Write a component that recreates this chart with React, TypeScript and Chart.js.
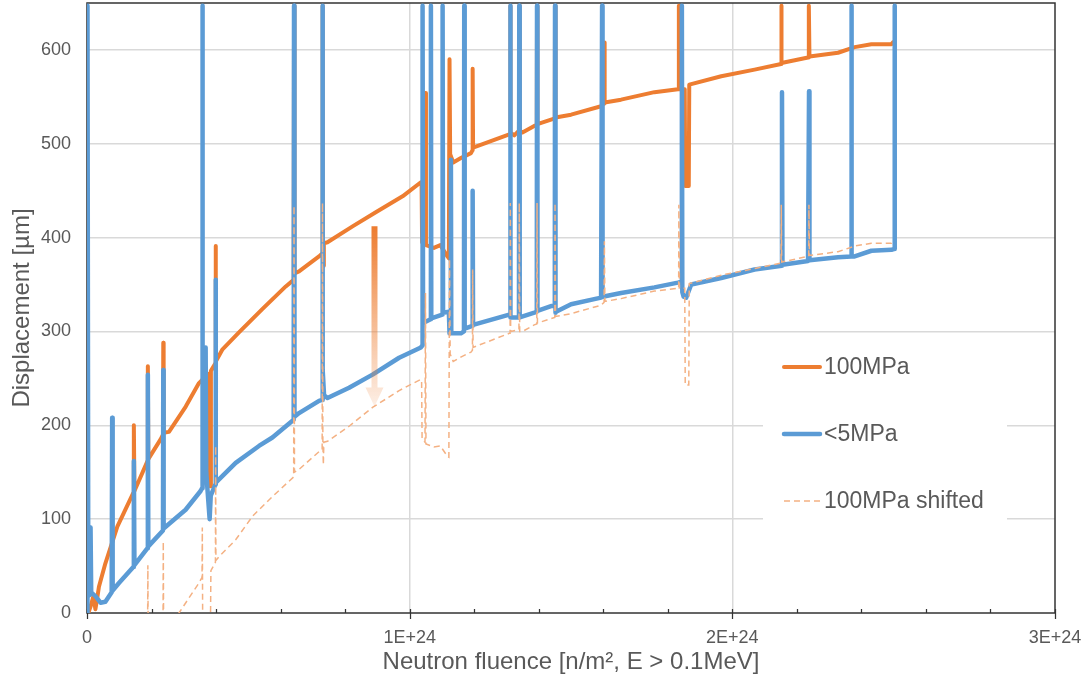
import { useEffect, useRef } from 'react';
import { Chart, registerables } from 'chart.js';

Chart.register(...registerables);

// Fluence values are given in units of 1E+24 n/m^2
const FLUENCE_UNIT = 1e24;
const X_TICKS = [0, 1, 2, 3];
const X_MINOR_STEP = 0.2;
const Y_TICKS = [0, 100, 200, 300, 400, 500, 600];
const Y_MAX = 650;

const X_TITLE = 'Neutron fluence [n/m², E > 0.1MeV]';
const Y_TITLE = 'Displacement [µm]';
const SERIES_LABELS = ['100MPa', '<5MPa', '100MPa shifted'];

// [fluence (1E+24), displacement µm]
const highStress: [number, number][] = [
  [0.004, 0], [0.012, 8], [0.02, 18], [0.026, 4], [0.03, 12], [0.037, 28], [0.057, 53], [0.094, 92],
  [0.1435, 128], [0.1452, 200], [0.147, 130], [0.18, 156], [0.1875, 162], [0.1886, 263], [0.19, 164],
  [0.228, 185], [0.2355, 190], [0.2364, 288], [0.2375, 192], [0.254, 193], [0.306, 220], [0.347, 245],
  [0.3677, 252], [0.379, 255], [0.3805, 135], [0.3825, 135], [0.384, 258], [0.398, 266], [0.3987, 391],
  [0.3995, 268], [0.42, 281], [0.471, 299], [0.544, 324], [0.616, 348], [0.6405, 355], [0.6416, 647],
  [0.643, 362], [0.6572, 364], [0.719, 380], [0.7288, 383], [0.7298, 647], [0.731, 393], [0.7325, 370],
  [0.734, 394], [0.7453, 395], [0.823, 412], [0.895, 427], [0.978, 444], [1.0347, 459], [1.037, 457],
  [1.0385, 395], [1.0475, 393], [1.049, 554], [1.0505, 392], [1.075, 389], [1.095, 392], [1.117, 380],
  [1.1215, 378], [1.1235, 590], [1.1255, 489], [1.135, 480], [1.16, 485], [1.19, 490], [1.1945, 493],
  [1.1952, 580], [1.1965, 496], [1.3087, 510], [1.3112, 511], [1.3118, 647], [1.313, 512], [1.3242, 509],
  [1.3387, 514], [1.3397, 647], [1.341, 514], [1.3495, 512], [1.386, 519], [1.394, 520], [1.3947, 647],
  [1.396, 521], [1.4498, 527], [1.4505, 647], [1.452, 528], [1.5002, 531], [1.5932, 540], [1.6025, 543],
  [1.6035, 608], [1.605, 544], [1.655, 547], [1.7586, 555], [1.8312, 558], [1.8336, 558], [1.8343, 647],
  [1.836, 558], [1.8525, 558], [1.854, 455], [1.865, 455], [1.8665, 563], [1.9656, 572], [2.0689, 579],
  [2.151, 585], [2.1517, 647], [2.153, 586], [2.2346, 592], [2.2368, 592], [2.2374, 647], [2.239, 593],
  [2.3277, 597], [2.3791, 603], [2.4309, 606], [2.493, 606], [2.4975, 608],
];

const lowStress: [number, number][] = [
  [0, 0], [0.0015, 647], [0.004, 18], [0.0105, 20], [0.011, 91], [0.013, 22], [0.026, 18], [0.042, 11],
  [0.057, 12], [0.0765, 22], [0.078, 208], [0.0795, 24], [0.099, 32], [0.1435, 49], [0.1452, 162],
  [0.147, 51], [0.1875, 69], [0.1886, 254], [0.19, 71], [0.2355, 88], [0.2364, 259], [0.2375, 90],
  [0.3056, 110], [0.352, 130], [0.3565, 133], [0.3574, 647], [0.359, 153], [0.366, 151], [0.3677, 283],
  [0.3695, 150], [0.3801, 100], [0.3835, 125], [0.398, 137], [0.3987, 355], [0.3995, 139], [0.4608, 160],
  [0.533, 178], [0.5746, 187], [0.6405, 206], [0.6416, 647], [0.643, 209], [0.6572, 213], [0.7192, 226],
  [0.7288, 227], [0.7298, 647], [0.731, 259], [0.7347, 232], [0.7453, 229], [0.8123, 240], [0.8849, 254],
  [0.9674, 272], [1.0347, 283], [1.039, 285], [1.04, 647], [1.0415, 309], [1.0648, 313], [1.0658, 647],
  [1.067, 314], [1.1011, 318], [1.1021, 647], [1.1035, 320], [1.1215, 321], [1.1235, 298], [1.127, 298],
  [1.1278, 483], [1.129, 298], [1.1589, 298], [1.1683, 300], [1.1691, 647], [1.1705, 303], [1.1945, 306],
  [1.1952, 450], [1.1965, 307], [1.3087, 318], [1.3112, 318], [1.3118, 647], [1.313, 315], [1.3387, 315],
  [1.3397, 647], [1.341, 315], [1.3863, 320], [1.394, 321], [1.3947, 647], [1.396, 322], [1.4381, 327],
  [1.4498, 327], [1.4505, 647], [1.452, 320], [1.4536, 321], [1.5002, 329], [1.5932, 336], [1.5957, 336],
  [1.5964, 647], [1.5978, 337], [1.6553, 341], [1.7586, 347], [1.8312, 352], [1.8429, 353], [1.8436, 647],
  [1.845, 342], [1.849, 337], [1.857, 336], [1.8725, 350], [1.9656, 357], [2.0689, 366], [2.1532, 370],
  [2.1539, 555], [2.1553, 371], [2.2346, 375], [2.237, 375], [2.2377, 556], [2.239, 376], [2.3277, 379],
  [2.3682, 380], [2.3689, 647], [2.3703, 380], [2.3791, 380], [2.4309, 386], [2.493, 387], [2.5025, 388],
  [2.5033, 647],
];

const highStressShifted: [number, number][] = [
  [0.18, -60], [0.1875, -50], [0.1886, 51], [0.19, -48], [0.2355, -27], [0.2364, 76], [0.2375, -25],
  [0.254, -19], [0.285, 0], [0.347, 32], [0.3565, 38], [0.3574, 91], [0.359, -60], [0.3815, -60],
  [0.384, 45], [0.398, 54], [0.3987, 178], [0.3995, 56], [0.409, 60], [0.4608, 78], [0.5126, 103],
  [0.5746, 124], [0.6405, 145], [0.6416, 434], [0.643, 150], [0.6572, 153], [0.7192, 172], [0.7288, 174],
  [0.7298, 437], [0.731, 180], [0.7325, 158], [0.734, 182], [0.7453, 183], [0.8123, 199], [0.8849, 219],
  [0.9674, 237], [1.0347, 249], [1.037, 247], [1.0385, 185], [1.0475, 182], [1.049, 341], [1.0505, 180],
  [1.075, 177], [1.095, 178], [1.117, 167], [1.1215, 166], [1.1235, 377], [1.1255, 276], [1.135, 268],
  [1.16, 273], [1.19, 278], [1.1945, 280], [1.1952, 366], [1.1965, 283], [1.3087, 298], [1.3112, 298],
  [1.3118, 437], [1.313, 300], [1.3387, 302], [1.3397, 437], [1.341, 300], [1.3495, 300], [1.386, 307],
  [1.394, 308], [1.3947, 437], [1.396, 309], [1.4498, 315], [1.4505, 437], [1.452, 316], [1.5002, 319],
  [1.5932, 328], [1.6025, 331], [1.6035, 396], [1.605, 332], [1.655, 335], [1.7586, 343], [1.8312, 346],
  [1.8336, 346], [1.8343, 435], [1.836, 346], [1.8525, 346], [1.854, 243], [1.865, 243], [1.8665, 351],
  [1.9656, 360], [2.0689, 367], [2.151, 373], [2.1517, 435], [2.153, 374], [2.2346, 380], [2.2368, 380],
  [2.2374, 435], [2.239, 381], [2.3277, 385], [2.3791, 391], [2.4309, 394], [2.493, 394], [2.4975, 396],
];

// Arrow annotation (data units): fluence 1E+24, from / to displacement
const ARROW_FLUENCE = 0.891;
const ARROW_FROM = 412;
const ARROW_TO = 220;

const ORANGE = '#ED7D31';
const BLUE = '#5B9BD5';
const LIGHT_ORANGE = '#F4B183';
const TEXT = '#595959';
const FONT = "'Liberation Sans', Arial, sans-serif";

const toXY = (pts: [number, number][]) => pts.map(([f, v]) => ({ x: f * FLUENCE_UNIT, y: v }));

const decorPlugin = {
  id: 'decor',
  beforeDatasetsDraw(chart: any) {
    const { ctx, chartArea: a, scales } = chart;
    const x = scales.x;
    ctx.save();
    ctx.strokeStyle = '#333333';
    ctx.lineWidth = 1.5;
    ctx.strokeRect(a.left, a.top, a.right - a.left, a.bottom - a.top);
    ctx.lineWidth = 1.25;
    const last = X_TICKS[X_TICKS.length - 1];
    const n = Math.round(last / X_MINOR_STEP);
    for (let i = 0; i <= n; i++) {
      const v = i * X_MINOR_STEP;
      const px = Math.round(x.getPixelForValue(v * FLUENCE_UNIT)) + 0.5;
      const major = Math.abs(v - Math.round(v)) < 1e-6;
      ctx.beginPath();
      ctx.moveTo(px, a.bottom - 4);
      ctx.lineTo(px, major ? a.bottom + 6 : a.bottom);
      ctx.stroke();
    }
    ctx.restore();
  },
  afterDatasetsDraw(chart: any) {
    const { ctx, chartArea: a, scales } = chart;
    const x = scales.x;
    const y = scales.y;
    ctx.save();
    // arrow
    const ax = x.getPixelForValue(ARROW_FLUENCE * FLUENCE_UNIT);
    const ay0 = y.getPixelForValue(ARROW_FROM);
    const ay1 = y.getPixelForValue(ARROW_TO);
    const grad = ctx.createLinearGradient(0, ay0, 0, ay1);
    grad.addColorStop(0, 'rgba(237,125,49,1)');
    grad.addColorStop(1, 'rgba(237,125,49,0.12)');
    ctx.fillStyle = grad;
    const headLen = 19;
    const shaftW = 6;
    const headW = 18;
    ctx.beginPath();
    ctx.moveTo(ax - shaftW / 2, ay0);
    ctx.lineTo(ax + shaftW / 2, ay0);
    ctx.lineTo(ax + shaftW / 2, ay1 - headLen);
    ctx.lineTo(ax + headW / 2, ay1 - headLen);
    ctx.lineTo(ax, ay1);
    ctx.lineTo(ax - headW / 2, ay1 - headLen);
    ctx.lineTo(ax - shaftW / 2, ay1 - headLen);
    ctx.closePath();
    ctx.fill();

    // legend
    const boxL = a.right - 292;
    const boxR = a.right - 48;
    const boxT = a.top + 333;
    const boxB = a.top + 527;
    ctx.fillStyle = '#ffffff';
    ctx.fillRect(boxL, boxT, boxR - boxL, boxB - boxT);
    const rows = [a.top + 364, a.top + 431, a.top + 498];
    chart.data.datasets.forEach((ds: any) => {
      const idx = SERIES_LABELS.indexOf(ds.label);
      const ry = rows[idx];
      ctx.beginPath();
      ctx.strokeStyle = ds.borderColor;
      ctx.lineWidth = ds.borderWidth;
      ctx.lineCap = ds.borderDash ? 'butt' : 'round';
      ctx.setLineDash(ds.borderDash || []);
      ctx.moveTo(a.right - 271, ry);
      ctx.lineTo(a.right - 235, ry);
      ctx.stroke();
      ctx.setLineDash([]);
      ctx.fillStyle = TEXT;
      ctx.font = `23px ${FONT}`;
      ctx.textBaseline = 'middle';
      ctx.textAlign = 'left';
      ctx.fillText(ds.label, a.right - 231, ry + 1);
    });
    ctx.restore();
  },
};

export default function App() {
  const ref = useRef<HTMLCanvasElement | null>(null);

  useEffect(() => {
    if (!ref.current) return;
    Chart.defaults.font.family = FONT;
    const chart = new Chart(ref.current, {
      type: 'line',
      data: {
        datasets: [
          {
            label: SERIES_LABELS[0],
            data: toXY(highStress),
            borderColor: ORANGE,
            borderWidth: 4,
            pointRadius: 0,
            tension: 0,
            borderJoinStyle: 'round',
            borderCapStyle: 'round',
            order: 3,
          },
          {
            label: SERIES_LABELS[1],
            data: toXY(lowStress),
            borderColor: BLUE,
            borderWidth: 4.5,
            pointRadius: 0,
            tension: 0,
            borderJoinStyle: 'round',
            borderCapStyle: 'round',
            order: 2,
          },
          {
            label: SERIES_LABELS[2],
            data: toXY(highStressShifted),
            borderColor: LIGHT_ORANGE,
            borderWidth: 1.5,
            borderDash: [6, 4],
            pointRadius: 0,
            tension: 0,
            order: 1,
          },
        ],
      },
      options: {
        animation: false,
        responsive: false,
        devicePixelRatio: 1,
        events: [],
        layout: { padding: { top: 3, right: 30, left: 0, bottom: 0 } },
        plugins: { legend: { display: false }, tooltip: { enabled: false } },
        scales: {
          x: {
            type: 'linear',
            min: 0,
            max: X_TICKS[X_TICKS.length - 1] * FLUENCE_UNIT,
            afterBuildTicks: (s: any) => {
              s.ticks = X_TICKS.map((v) => ({ value: v * FLUENCE_UNIT }));
            },
            afterFit: (s: any) => {
              s.height = 66;
              s.paddingLeft = 0;
              s.paddingRight = 0;
            },
            border: { display: false },
            grid: {
              drawTicks: false,
              lineWidth: 1.5,
              color: (c: any) =>
                c.tick && (c.tick.value === 0 || c.tick.value === X_TICKS[X_TICKS.length - 1] * FLUENCE_UNIT)
                  ? 'rgba(0,0,0,0)'
                  : '#d9d9d9',
            },
            ticks: {
              padding: 14,
              color: TEXT,
              font: { size: 18, family: FONT },
              maxRotation: 0,
              autoSkip: false,
              callback: (v: any) => (Number(v) === 0 ? '0' : `${Math.round(Number(v) / FLUENCE_UNIT)}E+24`),
            },
            title: {
              display: true,
              text: X_TITLE,
              color: TEXT,
              font: { size: 24, family: FONT },
              padding: { top: 0, bottom: 2 },
            },
          },
          y: {
            type: 'linear',
            min: 0,
            max: Y_MAX,
            afterBuildTicks: (s: any) => {
              s.ticks = Y_TICKS.map((v) => ({ value: v }));
            },
            afterFit: (s: any) => {
              s.width = 87;
              s.paddingTop = 0;
              s.paddingBottom = 0;
            },
            border: { display: false },
            grid: {
              drawTicks: false,
              lineWidth: 1.5,
              color: (c: any) => (c.tick && c.tick.value === 0 ? 'rgba(0,0,0,0)' : '#d9d9d9'),
            },
            ticks: {
              padding: 16,
              color: TEXT,
              font: { size: 18, family: FONT },
            },
            title: {
              display: true,
              text: Y_TITLE,
              color: TEXT,
              font: { size: 24, family: FONT },
              padding: { top: 8, bottom: 0 },
            },
          },
        },
      },
      plugins: [decorPlugin],
    } as any);
    return () => chart.destroy();
  }, []);

  return (
    <div style={{ position: 'absolute', left: 0, top: 0, width: 1085, height: 679, background: '#fff' }}>
      <canvas ref={ref} width={1085} height={679} style={{ display: 'block' }} />
    </div>
  );
}
